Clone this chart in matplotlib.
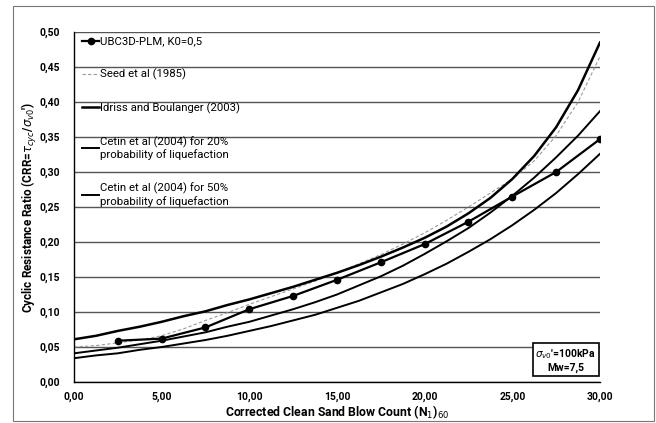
import matplotlib.pyplot as plt
from matplotlib.patches import Rectangle
from matplotlib.ticker import FuncFormatter

# UBC3D-PLM simulation points
n_ubc = [2.5, 5.0, 7.5, 10.0, 12.5, 15.0, 17.5, 20.0, 22.5, 25.0, 27.5, 30.0]
crr_ubc = [0.059, 0.062, 0.078, 0.104, 0.123, 0.146, 0.171, 0.197, 0.229, 0.265, 0.300, 0.347]

# reference curves, read every 1.25 blows
n_ref = [0.0, 1.25, 2.5, 3.75, 5.0, 6.25, 7.5, 8.75, 10.0, 11.25, 12.5, 13.75, 15.0,
         16.25, 17.5, 18.75, 20.0, 21.25, 22.5, 23.75, 25.0, 26.25, 27.5, 28.75, 30.0]
crr_seed = [0.050, 0.052, 0.056, 0.060, 0.066, 0.076, 0.088, 0.099, 0.111, 0.122, 0.133, 0.144, 0.156,
            0.169, 0.182, 0.197, 0.213, 0.231, 0.250, 0.270, 0.290, 0.316, 0.352, 0.400, 0.465]
crr_idriss = [0.061, 0.066, 0.073, 0.079, 0.086, 0.094, 0.101, 0.110, 0.118, 0.127, 0.136, 0.146, 0.156,
              0.167, 0.179, 0.192, 0.206, 0.222, 0.241, 0.263, 0.290, 0.323, 0.364, 0.417, 0.485]
crr_cetin20 = [0.034, 0.038, 0.041, 0.046, 0.050, 0.055, 0.060, 0.066, 0.073, 0.080, 0.088, 0.096, 0.106,
               0.116, 0.128, 0.140, 0.154, 0.169, 0.186, 0.204, 0.224, 0.246, 0.270, 0.297, 0.326]
crr_cetin50 = [0.041, 0.045, 0.049, 0.054, 0.059, 0.065, 0.071, 0.079, 0.086, 0.095, 0.104, 0.114, 0.125,
               0.138, 0.151, 0.166, 0.183, 0.201, 0.220, 0.242, 0.266, 0.292, 0.321, 0.352, 0.387]

x_ticks = [0, 5, 10, 15, 20, 25, 30]
y_ticks = [0.0, 0.05, 0.10, 0.15, 0.20, 0.25, 0.30, 0.35, 0.40, 0.45, 0.50]

plt.rcParams['font.family'] = ['Roboto', 'DejaVu Sans']

fig = plt.figure(figsize=(6.56, 4.23), dpi=100)
ax = fig.add_axes([0.1128, 0.0969, 0.8018, 0.8274])

# outer chart-area border
fig.patches.append(Rectangle((13 / 656, 2 / 423), 641 / 656, 415 / 423, transform=fig.transFigure,
                             fill=False, edgecolor='#777777', linewidth=0.8))

ax.plot(n_ref, crr_seed, color='#9a9a9a', linestyle=(0, (3, 2)), linewidth=0.8, label='Seed et al (1985)', zorder=2)
ax.plot(n_ubc, crr_ubc, color='black', marker='o', markersize=4.5, linewidth=1.6,
        label='UBC3D-PLM, K0=0,5', zorder=4)
ax.plot(n_ref, crr_idriss, color='black', linewidth=1.8, label='Idriss and Boulanger (2003)', zorder=3)
ax.plot(n_ref, crr_cetin20, color='black', linewidth=1.4,
        label='Cetin et al (2004) for 20%\nprobability of liquefaction', zorder=3)
ax.plot(n_ref, crr_cetin50, color='black', linewidth=1.4,
        label='Cetin et al (2004) for 50%\nprobability of liquefaction', zorder=3)

ax.set_xlim(0, 30)
ax.set_ylim(0, 0.5)
ax.set_xticks(x_ticks)
ax.set_yticks(y_ticks)
fmt = FuncFormatter(lambda v, p: f'{v:.2f}'.replace('.', ','))
ax.xaxis.set_major_formatter(fmt)
ax.yaxis.set_major_formatter(fmt)
ax.tick_params(axis='x', length=0, labelsize=7.5, pad=7)
ax.tick_params(axis='y', length=0, labelsize=7.5, pad=10)
for lab in ax.get_xticklabels() + ax.get_yticklabels():
    lab.set_fontweight('bold')

ax.grid(True, axis='y', color='#555555', linewidth=1.0)
ax.set_axisbelow(True)
for side in ['top', 'right']:
    ax.spines[side].set_visible(False)
for side in ['left', 'bottom']:
    ax.spines[side].set_linewidth(1.0)

ax.set_xlabel('Corrected Clean Sand Blow Count (N$_1$)$_{60}$', fontsize=8.8, fontweight='bold', labelpad=1)
ax.set_ylabel("Cyclic Resistance Ratio (CRR=$\\tau_{cyc}$/$\\sigma_{v0}$')", fontsize=8.5, fontweight='bold', labelpad=0)

handles, labels = ax.get_legend_handles_labels()
order = [1, 0, 2, 3, 4]
leg = ax.legend([handles[i] for i in order], [labels[i] for i in order], loc='upper left',
                bbox_to_anchor=(0.0, 1.01), frameon=False, fontsize=8.2, handlelength=1.5,
                handletextpad=0.1, labelspacing=1.95, borderaxespad=0.3)

ax.text(0.9925, 0.062, "$\\sigma_{v0}$'=100kPa\nMw=7,5", transform=ax.transAxes, ha='right', va='center',
        fontsize=7.5, fontweight='bold', multialignment='center',
        bbox=dict(boxstyle='square,pad=0.25', facecolor='white', edgecolor='black', linewidth=1.2))

fig.savefig('out.png', dpi=100)
